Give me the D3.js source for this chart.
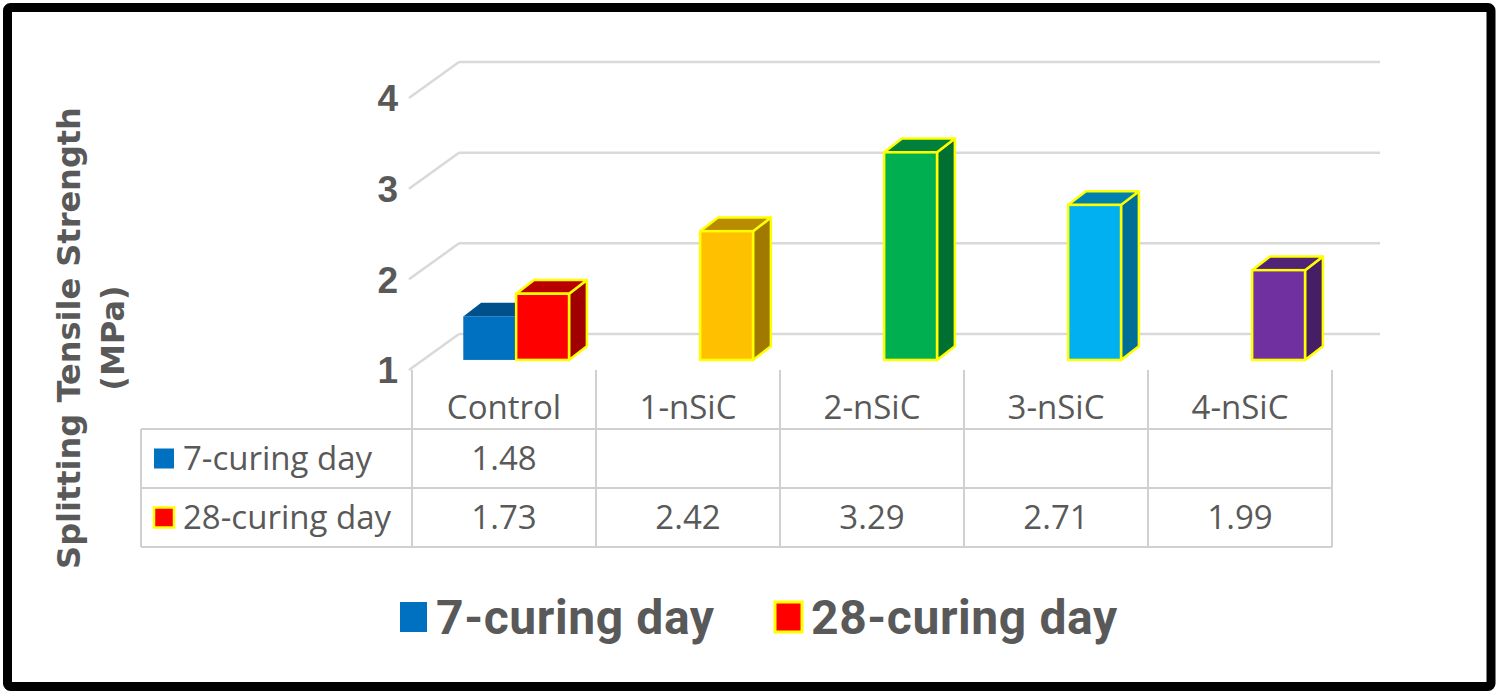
<!DOCTYPE html>
<html>
<head>
<meta charset="utf-8">
<script src="https://cdn.jsdelivr.net/npm/d3@7"></script>
<style>
  body { margin: 0; background: #fff; }
  svg { display: block; }
  text { fill: #595959; }
</style>
</head>
<body>
<div id="chart"></div>
<script>
// chart data
var categories = ["Control", "1-nSiC", "2-nSiC", "3-nSiC", "4-nSiC"];
var seriesNames = ["7-curing day", "28-curing day"];
var values7 = [1.48, null, null, null, null];
var values28 = [1.73, 2.42, 3.29, 2.71, 1.99];
var barColors28 = ["#FF0000", "#FFC000", "#00B050", "#00B0F0", "#7030A0"];
var color7 = "#0070C0";
var yTicks = [1, 2, 3, 4];

var width = 1500, height = 694;

var svg = d3.select("#chart").append("svg")
    .attr("width", width)
    .attr("height", height);

// front plane of the 3d box
var x0 = d3.scaleBand().domain(categories).range([412, 1332]);
var x1 = d3.scaleBand().domain(seriesNames).range([0, x0.bandwidth()]).paddingOuter(0.74);
var y = d3.scaleLinear().domain([1, 4]).range([370, 98]);

// depth vector (front floor edge -> back wall)
var depth = [47, -36];
var t0 = 0.28, t1 = 0.66;   // bar depth inside the box
var wallRight = 1380;

// back wall gridlines + the slanted side lines
var grid = svg.append("g");
yTicks.forEach(function(v) {
    var yf = y(v);
    grid.append("line")
        .attr("x1", x0.range()[0] + depth[0]).attr("x2", wallRight)
        .attr("y1", yf + depth[1]).attr("y2", yf + depth[1])
        .attr("stroke", "#d9d9d9").attr("stroke-width", 2.5);
    grid.append("line")
        .attr("x1", x0.range()[0] - 3).attr("x2", x0.range()[0] + depth[0])
        .attr("y1", yf).attr("y2", yf + depth[1])
        .attr("stroke", "#d9d9d9").attr("stroke-width", 2.5);
});

// y tick labels
svg.append("g").selectAll("text")
    .data(yTicks)
    .enter().append("text")
    .attr("x", 398)
    .attr("y", d => y(d))
    .attr("dy", "0.36em")
    .attr("text-anchor", "end")
    .style("font-family", "'Liberation Sans', Arial, sans-serif")
    .style("font-weight", "bold")
    .style("font-size", "37px")
    .text(d => d);

// bars
var bars = [];
categories.forEach(function(c, i) {
    if (values7[i] != null) bars.push({cat: c, s: seriesNames[0], v: values7[i], color: color7, edge: null});
    if (values28[i] != null) bars.push({cat: c, s: seriesNames[1], v: values28[i], color: barColors28[i], edge: "#FFFF00"});
});

var ox = depth[0] * t0, oy = depth[1] * t0;
var dx = depth[0] * (t1 - t0), dy = depth[1] * (t1 - t0);

var barG = svg.append("g").selectAll("g")
    .data(bars)
    .enter().append("g");

function pts(p) { return p.map(d => d.join(",")).join(" "); }

barG.each(function(d) {
    var g = d3.select(this);
    var xl = x0(d.cat) + x1(d.s) + ox - 1;
    var xr = xl + x1.bandwidth();
    var yb = y(1) + oy;
    var yt = y(d.v) + oy;
    var c = d3.color(d.color);
    var stroke = d.edge || "none";
    // side face
    g.append("polygon")
        .attr("points", pts([[xr, yt], [xr + dx, yt + dy], [xr + dx, yb + dy], [xr, yb]]))
        .attr("fill", c.darker(1.3))
        .attr("stroke", stroke).attr("stroke-width", 2.5).attr("stroke-linejoin", "round");
    // top face
    g.append("polygon")
        .attr("points", pts([[xl, yt], [xl + dx, yt + dy], [xr + dx, yt + dy], [xr, yt]]))
        .attr("fill", c.darker(0.9))
        .attr("stroke", stroke).attr("stroke-width", 2.5).attr("stroke-linejoin", "round");
    // front face
    g.append("rect")
        .attr("x", xl).attr("y", yt)
        .attr("width", x1.bandwidth()).attr("height", yb - yt)
        .attr("fill", d.color)
        .attr("stroke", stroke).attr("stroke-width", 2.5);
});

// data table
var tableLeft = 141;
var rowY = [370, 429, 488, 547];
var tbl = svg.append("g").attr("stroke", "#d0d0d0").attr("stroke-width", 2);
var colX = categories.map(c => x0(c)).concat([x0.range()[1]]);
colX.forEach(function(xv) {
    tbl.append("line").attr("x1", xv).attr("x2", xv).attr("y1", rowY[0]).attr("y2", rowY[3]);
});
tbl.append("line").attr("x1", tableLeft).attr("x2", tableLeft).attr("y1", rowY[1]).attr("y2", rowY[3]);
[rowY[1], rowY[2], rowY[3]].forEach(function(yv) {
    tbl.append("line").attr("x1", tableLeft).attr("x2", x0.range()[1]).attr("y1", yv).attr("y2", yv);
});

var tableFont = "'Open Sans', sans-serif";
var tableSize = "33px";

svg.append("g").selectAll("text")
    .data(categories)
    .enter().append("text")
    .attr("x", d => x0(d) + x0.bandwidth() / 2)
    .attr("y", 407)
    .attr("dy", "0.36em")
    .attr("text-anchor", "middle")
    .style("font-family", tableFont)
    .style("font-size", tableSize)
    .text(d => d);

var rows = [
    {name: seriesNames[0], vals: values7, color: color7, edge: null},
    {name: seriesNames[1], vals: values28, color: "#FF0000", edge: "#FFFF00"}
];

rows.forEach(function(r, ri) {
    var cy = (rowY[ri + 1] + rowY[ri + 2]) / 2;
    svg.append("rect")
        .attr("x", 154).attr("y", cy - 10)
        .attr("width", 20).attr("height", 20)
        .attr("fill", r.color)
        .attr("stroke", r.edge || "none").attr("stroke-width", 2.5);
    svg.append("text")
        .attr("x", 183).attr("y", cy)
        .attr("dy", "0.36em")
        .style("font-family", tableFont)
        .style("font-size", tableSize)
        .text(r.name);
    svg.append("g").selectAll("text")
        .data(categories.filter((c, i) => r.vals[i] != null))
        .enter().append("text")
        .attr("x", d => x0(d) + x0.bandwidth() / 2)
        .attr("y", cy)
        .attr("dy", "0.36em")
        .attr("text-anchor", "middle")
        .style("font-family", tableFont)
        .style("font-size", tableSize)
        .text(d => r.vals[categories.indexOf(d)].toFixed(2));
});

// y axis title
var title = svg.append("text")
    .attr("transform", "translate(68,338) rotate(-90)")
    .attr("text-anchor", "middle")
    .style("font-family", "'DejaVu Sans', sans-serif")
    .style("font-weight", "bold")
    .style("font-size", "32px");
title.append("tspan").attr("x", 0).attr("dy", "0.36em").text("Splitting Tensile Strength");
title.append("tspan").attr("x", 0).attr("dy", "1.38em").text("(MPa)");

// legend
var legendItems = [
    {name: seriesNames[0], color: color7, edge: null, x: 400},
    {name: seriesNames[1], color: "#FF0000", edge: "#FFFF00", x: 775}
];
var leg = svg.append("g").selectAll("g")
    .data(legendItems)
    .enter().append("g")
    .attr("transform", d => "translate(" + d.x + ",617)");
leg.append("rect")
    .attr("x", 0).attr("y", -15)
    .attr("width", 27).attr("height", 30)
    .attr("fill", d => d.color)
    .attr("stroke", d => d.edge || "none").attr("stroke-width", 3);
leg.append("text")
    .attr("x", 36).attr("y", 0)
    .attr("dy", "0.36em")
    .style("font-family", "Roboto, 'Liberation Sans', sans-serif")
    .style("font-weight", "bold")
    .style("font-size", "48px")
    .style("letter-spacing", "0.6px")
    .text(d => d.name);

// outer frame
svg.append("rect")
    .attr("x", 7.5).attr("y", 7.5)
    .attr("width", 1483.5).attr("height", 679)
    .attr("rx", 3)
    .attr("fill", "none")
    .attr("stroke", "#000")
    .attr("stroke-width", 9);
</script>
</body>
</html>
